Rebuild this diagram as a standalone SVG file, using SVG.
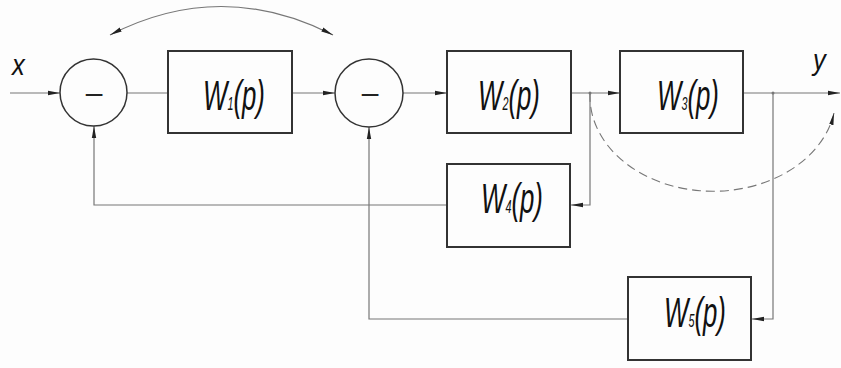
<svg xmlns="http://www.w3.org/2000/svg" width="841" height="368" viewBox="0 0 841 368">
<style>
.bg{fill:#fdfdfd}
.box{fill:none;stroke:#333;stroke-width:2}
.sum{fill:none;stroke:#333;stroke-width:1.5}
.ln{fill:none;stroke:#777;stroke-width:1.2}
.dash{fill:none;stroke:#777;stroke-width:1.1;stroke-dasharray:9 5}
.lbl{font-family:"Liberation Sans",Arial,sans-serif;font-style:italic;font-size:43px;fill:#111;text-anchor:middle}
.sub{font-size:18px}
.var{font-family:"Liberation Sans",Arial,sans-serif;font-style:italic;font-size:30px;fill:#111}
.minus{font-family:"Liberation Sans",Arial,sans-serif;font-size:30px;fill:#222;text-anchor:middle}
</style>
<defs>
<marker id="ar" viewBox="0 0 12 6" refX="12" refY="3" markerWidth="12" markerHeight="6" markerUnits="userSpaceOnUse" orient="auto-start-reverse">
<path d="M0,0.8 L12,3 L0,5.2 Z" fill="#222"/>
</marker>
</defs>
<rect class="bg" x="0" y="0" width="841" height="368"/>
<g id="connectors">
<path class="ln" d="M10 93 H60" marker-end="url(#ar)"/>
<path class="ln" d="M127 93 H168"/>
<path class="ln" d="M292 93 H335" marker-end="url(#ar)"/>
<path class="ln" d="M403 93 H447" marker-end="url(#ar)"/>
<path class="ln" d="M571 93 H620" marker-end="url(#ar)"/>
<path class="ln" d="M743 93 H840" marker-end="url(#ar)"/>
<path class="ln" d="M590 93 V205 H571" marker-end="url(#ar)"/>
<path class="ln" d="M447 205 H94 V126" marker-end="url(#ar)"/>
<path class="ln" d="M773 93 V319 H752" marker-end="url(#ar)"/>
<path class="ln" d="M628 319 H369 V127" marker-end="url(#ar)"/>
<circle cx="590" cy="93" r="1.5" fill="#777"/>
<circle cx="773" cy="93" r="1.5" fill="#777"/>
<path class="ln" d="M110 35 Q221 -22 333 35" marker-start="url(#ar)" marker-end="url(#ar)"/>
<path class="dash" d="M590 93 A123 95 0 0 0 834 113" marker-end="url(#ar)"/>
</g>
<g id="sum1">
<circle class="sum" cx="93.5" cy="92.5" r="33.5"/>
<text class="minus" x="94" y="103">–</text>
</g>
<g id="sum2">
<circle class="sum" cx="369" cy="93" r="34"/>
<text class="minus" x="370" y="103">–</text>
</g>
<g id="W1">
<rect class="box" x="168" y="51" width="124" height="82"/>
<text class="lbl" transform="translate(234 110) scale(0.6 1)">W<tspan class="sub">1</tspan>(p)</text>
</g>
<g id="W2">
<rect class="box" x="447" y="51" width="124" height="82"/>
<text class="lbl" transform="translate(509 110) scale(0.6 1)">W<tspan class="sub">2</tspan>(p)</text>
</g>
<g id="W3">
<rect class="box" x="620" y="51" width="123" height="82"/>
<text class="lbl" transform="translate(688 110) scale(0.6 1)">W<tspan class="sub">3</tspan>(p)</text>
</g>
<g id="W4">
<rect class="box" x="447" y="164" width="123" height="83"/>
<text class="lbl" transform="translate(512 213) scale(0.6 1)">W<tspan class="sub">4</tspan>(p)</text>
</g>
<g id="W5">
<rect class="box" x="628" y="277" width="123" height="83"/>
<text class="lbl" transform="translate(695 327) scale(0.6 1)">W<tspan class="sub">5</tspan>(p)</text>
</g>
<g id="labels">
<text class="var" transform="translate(12 75) scale(0.85 1)">x</text>
<text class="var" transform="translate(813 70) scale(0.85 1)">y</text>
</g>
</svg>
